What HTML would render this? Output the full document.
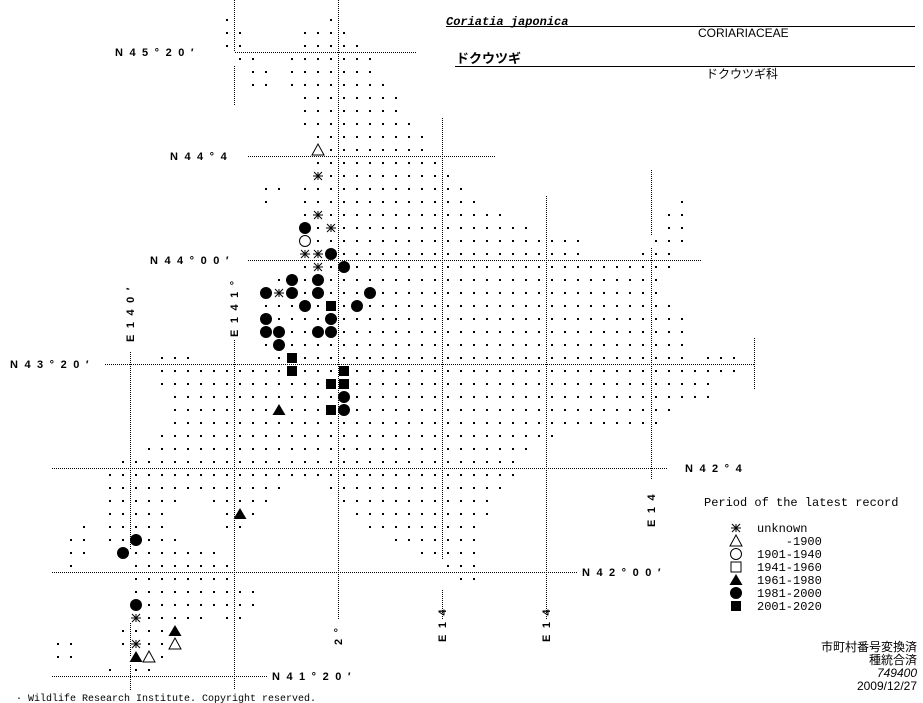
<!DOCTYPE html>
<html><head><meta charset="utf-8"><style>
html,body{margin:0;padding:0;background:#fff;}
svg{display:block;}
.lab{font-family:"Liberation Sans",sans-serif;font-weight:bold;font-size:11px;letter-spacing:6.5px;fill:#000;}
.leg{font-family:"Liberation Mono","DejaVu Sans Mono",monospace;font-size:12px;fill:#000;white-space:pre;}
.jp{font-family:"Liberation Sans","Noto Sans CJK JP",sans-serif;font-size:12px;fill:#000;}
</style></head><body>
<svg id="s" width="923" height="703" viewBox="0 0 923 703" xmlns="http://www.w3.org/2000/svg" xml:space="preserve">
<g stroke="#000" stroke-width="1" stroke-dasharray="1 1" fill="none">
<line x1="235" y1="52.5" x2="417" y2="52.5"/>
<line x1="248" y1="156.5" x2="495" y2="156.5"/>
<line x1="248" y1="260.5" x2="702" y2="260.5"/>
<line x1="105" y1="364.5" x2="754" y2="364.5"/>
<line x1="52" y1="468.5" x2="668" y2="468.5"/>
<line x1="52" y1="572.5" x2="578" y2="572.5"/>
<line x1="52" y1="676.5" x2="268" y2="676.5"/>
<line x1="234.5" y1="0" x2="234.5" y2="52"/>
<line x1="234.5" y1="66" x2="234.5" y2="105"/>
<line x1="234.5" y1="340" x2="234.5" y2="690"/>
<line x1="130.5" y1="352" x2="130.5" y2="550"/>
<line x1="130.5" y1="623" x2="130.5" y2="657"/>
<line x1="130.5" y1="665" x2="130.5" y2="690"/>
<line x1="338.5" y1="0" x2="338.5" y2="620"/>
<line x1="442.5" y1="118" x2="442.5" y2="560"/>
<line x1="442.5" y1="590" x2="442.5" y2="620"/>
<line x1="546.5" y1="196" x2="546.5" y2="620"/>
<line x1="651.5" y1="170" x2="651.5" y2="235"/>
<line x1="651.5" y1="248" x2="651.5" y2="480"/>
<line x1="754.5" y1="338" x2="754.5" y2="390"/>
</g>
<g id="dots"></g>
<g id="sym"></g>
<text class="lab" x="115" y="56">N45°20′</text>
<text class="lab" x="170" y="160">N44°4</text>
<text class="lab" x="150" y="264">N44°00′</text>
<text class="lab" x="10" y="368">N43°20′</text>
<text class="lab" x="685" y="472">N42°4</text>
<text class="lab" x="582" y="576">N42°00′</text>
<text class="lab" x="272" y="680">N41°20′</text>
<text class="lab" transform="translate(134,342) rotate(-90)">E140′</text>
<text class="lab" transform="translate(238,337) rotate(-90)">E141°</text>
<text class="lab" transform="translate(655,527) rotate(-90)">E14</text>
<text class="lab" transform="translate(446,642) rotate(-90)">E14</text>
<text class="lab" transform="translate(550,642) rotate(-90)">E14</text>
<text class="lab" transform="translate(342,645) rotate(-90)">2°</text>
<text x="446" y="25" style="font-family:'Liberation Mono',monospace;font-style:italic;font-weight:bold;font-size:12px">Coriatia japonica</text>
<line x1="446" y1="26.5" x2="915" y2="26.5" stroke="#000"/>
<text class="jp" x="698" y="37">CORIARIACEAE</text>
<text class="jp" x="456" y="63" style="font-weight:bold;font-size:13px">ドクウツギ</text>
<line x1="455" y1="66.5" x2="915" y2="66.5" stroke="#000"/>
<text class="jp" x="706" y="78">ドクウツギ科</text>
<text class="leg" x="704" y="506">Period of the latest record</text>
<text class="leg" x="757" y="532">unknown</text>
<text class="leg" x="757" y="545">    -1900</text>
<text class="leg" x="757" y="558">1901-1940</text>
<text class="leg" x="757" y="571">1941-1960</text>
<text class="leg" x="757" y="584">1961-1980</text>
<text class="leg" x="757" y="597">1981-2000</text>
<text class="leg" x="757" y="610">2001-2020</text>
<text class="jp" x="917" y="651" text-anchor="end">市町村番号変換済</text>
<text class="jp" x="917" y="664" text-anchor="end">種統合済</text>
<text class="jp" x="917" y="677" text-anchor="end" style="font-style:italic">749400</text>
<text class="jp" x="917" y="690" text-anchor="end">2009/12/27</text>
<text class="leg" x="16" y="701" style="font-size:10px">· Wildlife Research Institute. Copyright reserved.</text>
</svg>
<script>
var R=[[[0,0],[8,8]],[[0,1],[6,9]],[[0,1],[6,10]],[[1,2],[5,11]],[[2,3],[5,11]],[[2,3],[5,12]],
[[6,13]],[[6,13]],[[6,14]],[[7,15]],[[7,15]],[[7,16]],[[7,17]],[[3,4],[6,18]],[[3,3],[6,19],[35,35]],
[[6,21],[34,35]],[[6,23],[34,35]],[[6,27],[33,35]],[[6,27],[32,34]],[[6,34]],[[4,33]],[[3,33]],[[3,34]],
[[3,35]],[[3,35]],[[3,35]],[[-5,-3],[4,35],[37,39]],[[-5,39]],[[-5,37]],[[-4,37]],[[-4,34]],[[-4,33]],
[[-5,25]],[[-6,23]],[[-8,22]],[[-9,22]],[[-9,4],[8,21]],[[-9,-4],[-1,3],[9,20]],[[-9,-5],[0,2],[10,20]],
[[-11,-11],[-9,-5],[0,1],[11,19]],[[-12,-11],[-9,-4],[13,19]],[[-12,-11],[-8,-1],[15,19]],[[-12,-12],[-7,0],[17,19]],
[[-7,0],[18,19]],[[-7,2]],[[-7,2]],[[-7,-2],[0,1]],[[-8,-4]],[[-13,-12],[-8,-4]],[[-13,-12],[-7,-5]],[[-9,-9],[-7,-6]]];
var S={to:[[7,10],[-4,48],[-6,49]],ast:[[7,12],[7,15],[8,16],[6,18],[7,18],[7,19],[4,21],[-7,46],[-7,48]],
oc:[[6,17]],fc:[[6,16],[8,18],[9,19],[5,20],[7,20],[3,21],[5,21],[7,21],[6,22],[10,22],[11,21],[3,23],[8,23],[3,24],[4,24],[7,24],[8,24],[4,25],[9,29],[9,30],[-7,40],[-8,41],[-7,45]],
fs:[[8,22],[5,26],[5,27],[9,27],[8,28],[9,28],[8,30]],ft:[[4,30],[1,38],[-4,47],[-7,49]]};
var occ={};for(var k in S)S[k].forEach(function(p){occ[p[0]+','+p[1]]=1;});
var X=function(c){return 227+13*c;},Y=function(r){return 20+13*r;};
var d='';R.forEach(function(rs,r){rs.forEach(function(a){for(var c=a[0];c<=a[1];c++){if(occ[c+','+r])continue;d+='<rect x="'+(X(c)-1)+'" y="'+(Y(r)-1)+'" width="2" height="2"/>';}});});
document.getElementById('dots').innerHTML=d;
function sym(t,x,y){
 if(t=='to')return '<polygon points="'+x+','+(y-6)+' '+(x-6)+','+(y+5)+' '+(x+6)+','+(y+5)+'" fill="#fff" stroke="#000"/>';
 if(t=='ft')return '<polygon points="'+x+','+(y-6)+' '+(x-6.5)+','+(y+5)+' '+(x+6.5)+','+(y+5)+'" fill="#000"/>';
 if(t=='fc')return '<circle cx="'+x+'" cy="'+y+'" r="6" fill="#000"/>';
 if(t=='oc')return '<circle cx="'+x+'" cy="'+y+'" r="5.5" fill="#fff" stroke="#000"/>';
 if(t=='os')return '<rect x="'+(x-5)+'" y="'+(y-5)+'" width="10" height="10" fill="#fff" stroke="#000"/>';
 if(t=='fs')return '<rect x="'+(x-5)+'" y="'+(y-5)+'" width="10" height="10" fill="#000"/>';
 if(t=='ast')return '<g stroke="#000" stroke-width="1"><line x1="'+(x-5)+'" y1="'+y+'" x2="'+(x+5)+'" y2="'+y+'"/><line x1="'+x+'" y1="'+(y-4)+'" x2="'+x+'" y2="'+(y+4)+'"/><line x1="'+(x-4)+'" y1="'+(y-4)+'" x2="'+(x+4)+'" y2="'+(y+4)+'"/><line x1="'+(x-4)+'" y1="'+(y+4)+'" x2="'+(x+4)+'" y2="'+(y-4)+'"/></g>';
}
var s='';for(var k in S)S[k].forEach(function(p){s+=sym(k,X(p[0]),Y(p[1]));});
var L=['ast','to','oc','os','ft','fc','fs'];L.forEach(function(t,i){s+=sym(t,736,528+13*i);});
document.getElementById('sym').innerHTML=s;
</script>
</body></html>
